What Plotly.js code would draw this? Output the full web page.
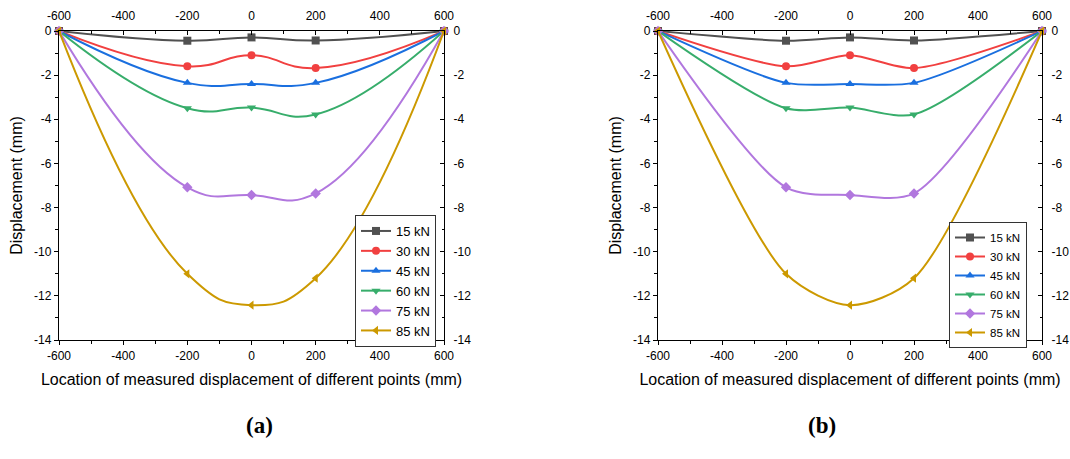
<!DOCTYPE html>
<html>
<head>
<meta charset="utf-8">
<script src="https://cdn.plot.ly/plotly-3.0.1.min.js"></script>
<style>html,body{margin:0;padding:0;background:#fff;}#chart{width:1070px;height:459px;}</style>
</head>
<body>
<div id="chart"></div>
<script>
// Data
const xPos = [-600, -200, 0, 200, 600];
const seriesNames = ['15 kN', '30 kN', '45 kN', '60 kN', '75 kN', '85 kN'];
const d15 = [0, -0.44, -0.29, -0.43, 0];
const d30 = [0, -1.60, -1.10, -1.68, 0];
const d45 = [0, -2.35, -2.40, -2.35, 0];
const d60 = [0, -3.50, -3.47, -3.78, 0];
const d75 = [0, -7.08, -7.43, -7.36, 0];
const d85 = [0, -11.00, -12.42, -11.20, 0];
const xTickVals = [-600, -400, -200, 0, 200, 400, 600];
const xTickText = ['-600', '-400', '-200', '0', '200', '400', '600'];
const yTickVals = [0, -2, -4, -6, -8, -10, -12, -14];
const yTickText = ['0', '-2', '-4', '-6', '-8', '-10', '-12', '-14'];
const panelLabels = ['(a)', '(b)'];
const xTitle = 'Location of measured displacement of different points (mm)';
const yTitle = 'Displacement (mm)';

const allY = [d15, d30, d45, d60, d75, d85];
const colors = ['#515151', '#F14040', '#1A6FDF', '#37AD6B', '#B177DE', '#CC9900'];
const symbols = ['square', 'circle', 'triangle-up', 'triangle-down', 'diamond', 'triangle-left'];
const FONT = 'Liberation Sans, Arial, sans-serif';

const traces = [];
function addPanel(xa, ya, xa2, ya2, legendId, smoothing, msize) {
  allY.forEach((ys, i) => {
    traces.push({
      x: xPos, y: ys, xaxis: xa, yaxis: ya,
      name: seriesNames[i], legend: legendId,
      type: 'scatter', mode: 'lines+markers', cliponaxis: false,
      line: {color: colors[i], width: 2, shape: 'spline', smoothing: smoothing},
      marker: {symbol: symbols[i], size: msize, color: colors[i]}
    });
  });
  // invisible helper so the mirrored top/right axes are drawn
  traces.push({
    x: [xPos[0]], y: [d15[0]], xaxis: xa2, yaxis: ya2, type: 'scatter', mode: 'markers',
    marker: {opacity: 0}, showlegend: false, hoverinfo: 'skip'
  });
}
addPanel('x', 'y', 'x2', 'y2', 'legend', 1.3, 8);
addPanel('x3', 'y3', 'x4', 'y4', 'legend2', 0.8, 8);

const yDom = [1 - 340 / 459, 1 - 31 / 459];
const tickFont = {family: FONT, size: 12, color: '#000'};
function common() {
  return {
    showline: true, linecolor: '#000', linewidth: 1.2, showgrid: false, zeroline: false,
    tickwidth: 1, tickcolor: '#000', ticklen: 4, tickfont: tickFont, fixedrange: true
  };
}
function xAxis(extra, dir) {
  return Object.assign(common(), {
    range: [-600, 600], tickmode: 'array', tickvals: xTickVals, ticktext: xTickText, ticks: dir,
    minor: {tickmode: 'linear', tick0: 0, dtick: 100, ticks: dir, ticklen: 2.5, tickwidth: 1, tickcolor: '#000'}
  }, extra);
}
function yAxis(extra, dir) {
  return Object.assign(common(), {
    range: [-14, 0], tickmode: 'array', tickvals: yTickVals, ticktext: yTickText, ticks: dir,
    minor: {tickmode: 'linear', tick0: 0, dtick: 1, ticks: dir, ticklen: 2.5, tickwidth: 1, tickcolor: '#000'}
  }, extra);
}
const xTitleObj = {text: xTitle, font: {family: FONT, size: 16, color: '#000'}, standoff: 12};
const yTitleObj = {text: yTitle, font: {family: FONT, size: 16, color: '#000'}, standoff: 7};

const layout = {
  width: 1070, height: 459,
  margin: {l: 0, r: 0, t: 0, b: 0},
  paper_bgcolor: '#fff', plot_bgcolor: '#fff',
  showlegend: true,
  xaxis: xAxis({domain: [59 / 1070, 444 / 1070], anchor: 'y', title: xTitleObj}, 'outside'),
  xaxis2: xAxis({overlaying: 'x', anchor: 'y', side: 'top', ticklabelstandoff: 5}, 'inside'),
  yaxis: yAxis({domain: yDom, anchor: 'x', title: yTitleObj}, 'outside'),
  yaxis2: yAxis({overlaying: 'y', anchor: 'x', side: 'right', ticklabelstandoff: 6}, 'inside'),
  xaxis3: xAxis({domain: [658 / 1070, 1042 / 1070], anchor: 'y3', title: xTitleObj}, 'outside'),
  xaxis4: xAxis({overlaying: 'x3', anchor: 'y3', side: 'top', ticklabelstandoff: 5}, 'inside'),
  yaxis3: yAxis({domain: yDom, anchor: 'x3', title: yTitleObj}, 'outside'),
  yaxis4: yAxis({overlaying: 'y3', anchor: 'x3', side: 'right', ticklabelstandoff: 6}, 'inside'),
  legend: {
    x: 436 / 1070, y: 1 - 215 / 459, xanchor: 'right', yanchor: 'top',
    bgcolor: '#fff', bordercolor: '#333', borderwidth: 1,
    font: {family: FONT, size: 13, color: '#000'}, tracegroupgap: 0, itemwidth: 30
  },
  legend2: {
    x: 1027 / 1070, y: 1 - 222 / 459, xanchor: 'right', yanchor: 'top',
    bgcolor: '#fff', bordercolor: '#333', borderwidth: 1,
    font: {family: FONT, size: 11.5, color: '#000'}, tracegroupgap: 0, itemwidth: 30
  },
  annotations: [
    {text: '<b>' + panelLabels[0] + '</b>', x: 244 / 1070, y: 1 - 440 / 459, xref: 'paper', yref: 'paper',
     showarrow: false, font: {family: 'Liberation Serif, serif', size: 23, color: '#000'}},
    {text: '<b>' + panelLabels[1] + '</b>', x: 838 / 1070, y: 1 - 440 / 459, xref: 'paper', yref: 'paper',
     showarrow: false, font: {family: 'Liberation Serif, serif', size: 23, color: '#000'}}
  ]
};

Plotly.newPlot('chart', traces, layout, {displayModeBar: false, staticPlot: true});
</script>
</body>
</html>
